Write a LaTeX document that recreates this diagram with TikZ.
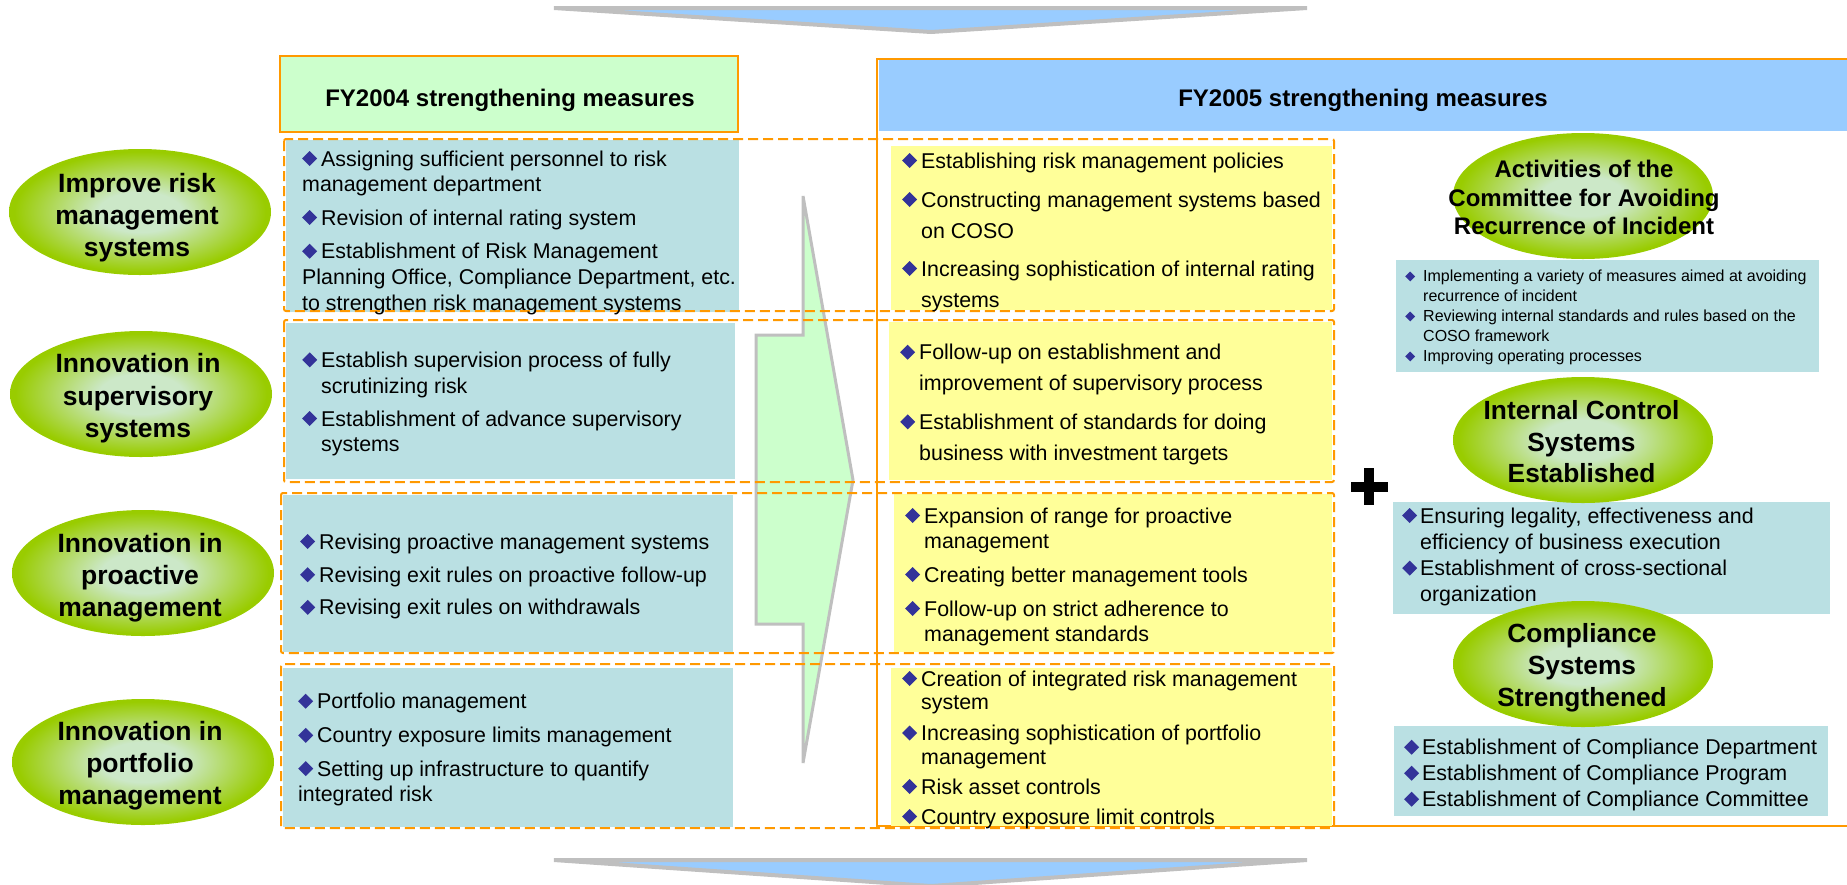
\documentclass[tikz,border=0pt]{standalone}
\usepackage{fontspec}
\setmainfont{Liberation Sans}
\usepackage{graphicx}
\usepackage{tikz}

\definecolor{lineorange}{RGB}{255,153,0}
\definecolor{headgreen}{RGB}{204,255,204}
\definecolor{headblue}{RGB}{153,204,255}
\definecolor{boxteal}{RGB}{186,224,227}
\definecolor{boxyellow}{RGB}{255,255,153}
\definecolor{bulblue}{RGB}{51,51,153}
\definecolor{arrowgray}{RGB}{191,191,191}
\definecolor{palegreen}{RGB}{204,232,200}
\definecolor{limegreen}{RGB}{153,204,0}

\pgfdeclareradialshading{ellgreen}{\pgfpointorigin}{color(0bp)=(palegreen); color(8bp)=(palegreen); color(24bp)=(limegreen); color(50bp)=(limegreen)}

\newcommand{\dia}[2]{\makebox[#2][l]{\textcolor{bulblue}{\rotatebox{45}{\rule{#1}{#1}}}}}
\newcommand{\bul}{\dia{10.6pt}{19pt}}
\newcommand{\bulr}{\dia{10.6pt}{18pt}}
\newcommand{\buls}{\dia{7pt}{18pt}}
\newcommand{\hangit}[1][19pt]{\hangindent=#1\hangafter=1\relax}
\newcommand{\nxt}[1]{\par\vspace{#1}}
\newcommand{\itembox}[2]{\parbox[t]{600pt}{\setlength{\baselineskip}{#1}#2}}
\newcommand{\ellbox}[2]{\parbox[t]{320pt}{\centering\setlength{\baselineskip}{#1}#2}}

\begin{document}
\begin{tikzpicture}[x=1pt,y=-1pt,
  dashrow/.style={draw=lineorange, line width=2pt, dash pattern=on 10pt off 5pt, rounded corners=2pt},
  flowarrow/.style={draw=arrowgray, line width=3pt},
  hdtxt/.style={anchor=base, inner sep=0pt, font=\bfseries\fontsize{24}{28}\selectfont},
  itmtxt/.style={anchor=base west, inner sep=0pt, font=\fontsize{21.4}{25.7}\selectfont},
  smalltxt/.style={anchor=base west, inner sep=0pt, font=\fontsize{16}{20}\selectfont},
  elltxt/.style={anchor=base, inner sep=0pt, font=\bfseries\fontsize{26.5}{32}\selectfont},
  rtxt/.style={anchor=base, inner sep=0pt, font=\bfseries\fontsize{26.3}{31.5}\selectfont}]
\useasboundingbox (0,0) rectangle (1847,884);

\filldraw[fill=headblue, draw=arrowgray, line width=4pt] (554,8) -- (1307,8) -- (931,32) -- cycle;
\filldraw[fill=headblue, draw=arrowgray, line width=4pt] (554,860) -- (1307,860) -- (931,886) -- cycle;

\filldraw[fill=headgreen, draw=lineorange, line width=2pt] (280,56) rectangle (738,132);
\fill[headblue] (879,60) rectangle (1847,131);
\draw[lineorange, line width=2pt] (1860,59) -- (877,59) -- (877,826) -- (1860,826);

\fill[boxteal] (286,140) rectangle (739,312);
\fill[boxteal] (286,323) rectangle (735,479);
\fill[boxteal] (283,495) rectangle (733,652);
\fill[boxteal] (283,668) rectangle (733,827);
\fill[boxyellow] (891,146) rectangle (1332,310);
\fill[boxyellow] (889,322) rectangle (1332,480);
\fill[boxyellow] (894,494) rectangle (1332,652);
\fill[boxyellow] (891,668) rectangle (1332,826);
\fill[boxteal] (1396,260) rectangle (1819,372);
\fill[boxteal] (1393,502) rectangle (1830,614);
\fill[boxteal] (1394,726) rectangle (1828,816);

\filldraw[flowarrow, fill=headgreen] (803,196) -- (853,480) -- (803,763) -- (803,624) -- (756,624) -- (756,335) -- (803,335) -- cycle;

\draw[dashrow] (284,139) rectangle (1334,311);
\draw[dashrow] (284,320) rectangle (1334,482);
\draw[dashrow] (281,493) rectangle (1334,653);
\draw[dashrow] (281,664) rectangle (1334,828);

\shade[shading=ellgreen] (140,212) ellipse [x radius=131pt, y radius=63pt];
\shade[shading=ellgreen] (141,394) ellipse [x radius=131pt, y radius=63pt];
\shade[shading=ellgreen] (143,573) ellipse [x radius=131pt, y radius=63pt];
\shade[shading=ellgreen] (143,762) ellipse [x radius=131pt, y radius=63pt];
\shade[shading=ellgreen] (1583,196) ellipse [x radius=130pt, y radius=63pt];
\shade[shading=ellgreen] (1583,440) ellipse [x radius=130pt, y radius=63pt];
\shade[shading=ellgreen] (1583,664) ellipse [x radius=130pt, y radius=63pt];

\fill (1351,482) rectangle (1388,492);
\fill (1364,468) rectangle (1374,505);

\node[hdtxt] (fy4) at (510,106.6) {FY2004 strengthening measures};
\node[hdtxt] (fy5) at (1363,106.6) {FY2005 strengthening measures};

\node[elltxt] (risk) at (137,192) {\ellbox{32pt}{Improve risk\\management\\systems}};
\node[elltxt] (superv) at (138,372.5) {\ellbox{32.5pt}{Innovation in\\supervisory\\systems}};
\node[elltxt] (proact) at (140,552.5) {\ellbox{32pt}{Innovation in\\proactive\\management}};
\node[elltxt] (portf) at (140,740.5) {\ellbox{32pt}{Innovation in\\portfolio\\management}};

\node[rtxt, font=\bfseries\fontsize{24}{28.5}\selectfont] (avoid) at (1584,177.6) {\ellbox{28.5pt}{Activities of the\\Committee for Avoiding\\Recurrence of Incident}};
\node[rtxt] (intctl) at (1581.5,419.5) {\ellbox{31.5pt}{Internal Control\\Systems\\Established}};
\node[rtxt] (compl) at (1582,642.5) {\ellbox{32pt}{Compliance\\Systems\\Strengthened}};

\node[itmtxt] (old1) at (302,166) {\itembox{25.7pt}{\bul Assigning sufficient personnel to risk\\management department\nxt{7.6pt}\bul Revision of internal rating system\nxt{8pt}\bul Establishment of Risk Management\\Planning Office, Compliance Department, etc.\\to strengthen risk management systems}};
\node[itmtxt] (old2) at (302,367.3) {\itembox{25.7pt}{\hangit\bul Establish supervision process of fully\\scrutinizing risk\nxt{7.3pt}\hangit\bul Establishment of advance supervisory\\systems}};
\node[itmtxt] (old3) at (300,549) {\itembox{25.7pt}{\bul Revising proactive management systems\nxt{7.5pt}\bul Revising exit rules on proactive follow-up\nxt{7pt}\bul Revising exit rules on withdrawals}};
\node[itmtxt] (old4) at (298,708.7) {\itembox{25.7pt}{\bul Portfolio management\nxt{8.5pt}\bul Country exposure limits management\nxt{7.5pt}\bul Setting up infrastructure to quantify\\integrated risk}};

\node[itmtxt] (new1) at (902,168) {\itembox{31pt}{\hangit\bul Establishing risk management policies\nxt{8pt}\hangit\bul Constructing management systems based\\on COSO\nxt{7pt}\hangit\bul Increasing sophistication of internal rating\\systems}};
\node[itmtxt] (new2) at (900,359.7) {\itembox{31pt}{\hangit\bul Follow-up on establishment and\\improvement of supervisory process\nxt{7.7pt}\hangit\bul Establishment of standards for doing\\business with investment targets}};
\node[itmtxt] (new3) at (905,523) {\itembox{25.7pt}{\hangit\bul Expansion of range for proactive\\management\nxt{7.6pt}\hangit\bul Creating better management tools\nxt{8.3pt}\hangit\bul Follow-up on strict adherence to\\management standards}};
\node[itmtxt] (new4) at (902,686) {\itembox{23.5pt}{\hangit\bul Creation of integrated risk management\\system\nxt{7.5pt}\hangit\bul Increasing sophistication of portfolio\\management\nxt{6.5pt}\hangit\bul Risk asset controls\nxt{6.5pt}\hangit\bul Country exposure limit controls}};

\node[smalltxt] (avoidlist) at (1405,281.4) {\itembox{20pt}{\hangit[18pt]\buls Implementing a variety of measures aimed at avoiding\\recurrence of incident\par\hangit[18pt]\buls Reviewing internal standards and rules based on the\\COSO framework\par\hangit[18pt]\buls Improving operating processes}};
\node[itmtxt] (intlist) at (1402,523) {\itembox{26.3pt}{\hangit[18pt]\bulr Ensuring legality, effectiveness and\\efficiency of business execution\par\hangit[18pt]\bulr Establishment of cross-sectional\\organization}};
\node[itmtxt] (compllist) at (1404,754.7) {\itembox{26pt}{\bulr Establishment of Compliance Department\par\bulr Establishment of Compliance Program\par\bulr Establishment of Compliance Committee}};
\end{tikzpicture}
\end{document}
